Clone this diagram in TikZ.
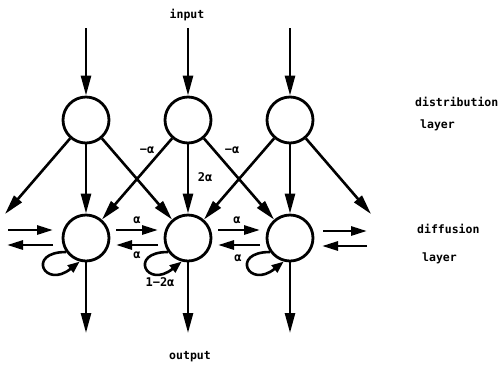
\documentclass[tikz,border=0pt]{standalone}
\usepackage{fontspec}
\newfontfamily\lblfont{DejaVu Sans Mono}
\usetikzlibrary{arrows.meta,calc}
\begin{document}
\begin{tikzpicture}[x=1pt,y=-1pt,
  unit/.style={circle,draw,line width=2.8pt,inner sep=0pt,minimum size=46pt},
  arr/.style={line width=2.6pt,-{Triangle[length=20pt,width=10pt]}},
  harr/.style={line width=2.8pt,-{Triangle[length=16pt,width=9pt]}},
  larr/.style={line width=2.6pt,-{Triangle[length=12pt,width=9pt]}},
  lbl/.style={font=\lblfont\bfseries\fontsize{11.5}{12}\selectfont,inner sep=0pt},
  wt/.style={font=\lblfont\bfseries\fontsize{12}{13}\selectfont,inner sep=0pt}]
\useasboundingbox (0,0) rectangle (502,365);
\fill[white] (0,0) rectangle (502,365);
\foreach \i/\x in {1/86,2/188,3/290}{
  \node[unit] (d\i) at (\x,120) {};
  \node[unit] (f\i) at (\x,238) {};
  \coordinate (in\i) at (\x,28);
  \coordinate (out\i) at (\x,333);
}
\foreach \i in {1,2,3}{
  \draw[arr] (in\i) -- (d\i);
  \draw[arr] (d\i) -- (f\i);
  \draw[arr] (f\i) -- (out\i);
  \draw[larr] (f\i.215) .. controls +(-40,0) and +(-35,28) .. (f\i.255);
}
\draw[arr] (d1) -- (f2);
\draw[arr] (d2) -- (f1);
\draw[arr] (d2) -- (f3);
\draw[arr] (d3) -- (f2);
\coordinate (eL) at (5,214);
\coordinate (eR) at (371,214);
\draw[arr] (d1) -- (eL);
\draw[arr] (d3) -- (eR);
% horizontal diffusion arrows
\draw[harr] ($(f1)+(30,-8)$) -- ($(f2)+(-30,-8)$);
\draw[harr] ($(f2)+(-30,7)$) -- ($(f1)+(30,7)$);
\draw[harr] ($(f2)+(30,-8)$) -- ($(f3)+(-30,-8)$);
\draw[harr] ($(f3)+(-30,7)$) -- ($(f2)+(30,7)$);
\draw[harr] ($(f1)+(-78,-8)$) -- ($(f1)+(-33,-8)$);
\draw[harr] ($(f1)+(-33,7)$) -- ($(f1)+(-79,7)$);
\draw[harr] ($(f3)+(33,-7)$) -- ($(f3)+(77,-7)$);
\draw[harr] ($(f3)+(77,8)$) -- ($(f3)+(32,8)$);
% texts
\node[lbl] (tin) at (187,15) {input};
\node[lbl] (tout) at (190,357) {output};
\node[lbl,anchor=west] (t1) at (415,102) {distribution};
\node[lbl,anchor=west] (t2) at (420,125) {layer};
\node[lbl,anchor=west] (t3) at (417,229) {diffusion};
\node[lbl,anchor=west] (t4) at (422,258) {layer};
\node[wt] (w1) at (147,150) {−α};
\node[wt] (w2) at (232,150) {−α};
\node[wt] (w3) at (205,177) {2α};
\node[wt] (w4) at (137,220) {α};
\node[wt] (w5) at (237,220) {α};
\node[wt] (w6) at (137,255) {α};
\node[wt] (w7) at (238,258) {α};
\node[wt] (w8) at (160,282) {1−2α};
\end{tikzpicture}
\end{document}
